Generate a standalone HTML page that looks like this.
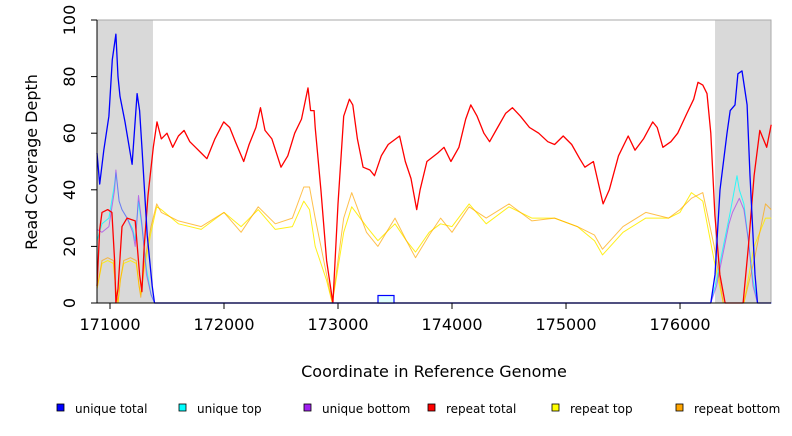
<!DOCTYPE html>
<html><head><meta charset="utf-8">
<style>
body{margin:0;background:#fff;width:792px;height:432px;overflow:hidden;font-family:"DejaVu Sans","Liberation Sans",sans-serif;}
svg text{font-family:"DejaVu Sans","Liberation Sans",sans-serif;}
</style></head>
<body>
<svg id="chart" width="792" height="432" xmlns="http://www.w3.org/2000/svg"></svg>
<script>
const xTicks=[171000,172000,173000,174000,175000,176000];
const yTicks=[0,20,40,60,80,100];
const regions=[[170886,171377],[176307,176800]];
const seriesNames=["unique total","unique top","unique bottom","repeat total","repeat top","repeat bottom"];
const seriesColors=["#0000ff","#00ffff","#a020f0","#ff0000","#ffff00","#ffa500"];
const redX=[170886,170910,170930,170980,171017,171040,171052,171070,171105,171150,171221,171260,171280,171300,171333,171380,171412,171450,171500,171550,171600,171650,171700,171750,171800,171850,171920,171997,172050,172100,172173,172220,172280,172320,172360,172420,172500,172560,172620,172680,172737,172760,172790,172800,172850,172900,172955,173000,173050,173100,173130,173170,173220,173280,173320,173380,173440,173540,173590,173640,173690,173720,173780,173875,173930,173990,174060,174120,174165,174220,174280,174330,174400,174470,174530,174600,174680,174760,174840,174900,174975,175050,175120,175166,175240,175325,175380,175460,175545,175605,175680,175760,175800,175850,175920,175980,176060,176120,176158,176200,176237,176270,176306,176350,176395,176553,176600,176650,176700,176760,176800];
const redY=[6,26,32,33,32,15,0,5,27,30,29,10,4,20,38,55,64,58,60,55,59,61,57,55,53,51,58,64,62,57,50,56,62,69,61,58,48,52,60,65,76,68,68,62,40,15,0,35,66,72,70,58,48,47,45,52,56,59,50,44,33,40,50,53,55,50,55,65,70,66,60,57,62,67,69,66,62,60,57,56,59,56,51,48,50,35,40,52,59,54,58,64,62,55,57,60,67,72,78,77,74,60,31,10,0,0,20,45,61,55,63];
const blueX=[170886,170910,170946,170990,171020,171052,171070,171088,171132,171194,171238,171260,171282,171326,171370,171390,176270,176307,176351,176412,176440,176482,176508,176544,176588,176614,176658,176680,176800];
const blueY=[53,42,54,66,86,95,80,73,64,49,74,68,54,24,6,0,0,10,40,60,68,70,81,82,70,45,10,0,0];
const cyanX=[170886,170930,170990,171040,171052,171080,171105,171150,171200,171221,171250,171280,171320,171360,171390,176270,176320,176380,176440,176500,176520,176560,176600,176640,176680,176800];
const cyanY=[22,28,30,42,46,36,33,30,26,22,36,27,12,3,0,0,8,20,32,45,40,35,22,8,0,0];
const purpleX=[170886,170930,170990,171040,171052,171080,171105,171150,171200,171221,171250,171280,171320,171360,171390,176270,176320,176380,176430,176460,176520,176560,176600,176640,176680,176800];
const purpleY=[26,25,27,40,47,36,33,30,25,20,38,28,10,3,0,0,6,18,28,32,37,33,22,6,0,0];
const repX=[170886,170930,170980,171030,171050,171070,171090,171120,171180,171230,171255,171270,171300,171360,171410,171450,171600,171800,172000,172150,172300,172450,172600,172700,172750,172800,172900,172950,173050,173120,173250,173350,173500,173600,173680,173800,173900,174000,174150,174300,174500,174700,174900,175100,175250,175320,175500,175700,175900,176000,176100,176200,176300,176380,176560,176650,176750,176800];
const yellowY=[5,14,15,14,5,0,8,14,15,14,6,3,12,25,34,33,28,26,32,27,33,26,27,36,33,20,8,0,25,34,27,22,28,22,18,25,28,27,35,28,34,30,30,27,22,17,25,30,30,32,39,36,15,0,0,20,30,30];
const orangeY=[5,15,16,15,5,0,8,15,16,15,6,2,14,27,35,32,29,27,32,25,34,28,30,41,41,30,10,0,30,39,25,20,30,22,16,24,30,25,34,30,35,29,30,27,24,19,27,32,30,33,37,39,20,0,0,15,35,33];

const svg=document.getElementById('chart');
const NS="http://www.w3.org/2000/svg";
const X0=97,X1=771,Y0=303,Y1=20;
const xs=c=>X0+(c-170886)*(X1-X0)/(176798-170886);
const ys=v=>Y0-v*(Y0-Y1)/100;
function mk(tag,attrs,parent){const e=document.createElementNS(NS,tag);for(const k in attrs)e.setAttribute(k,attrs[k]);(parent||svg).appendChild(e);return e;}

regions.forEach(r=>{
  const rc=mk('rect',{x:xs(r[0]),y:Y1,width:Math.min(xs(r[1]),X1)-xs(r[0]),height:Y0-Y1,fill:'#d9d9d9'});
  
  
});
const frame=mk('rect',{x:X0,y:Y1,width:X1-X0,height:Y0-Y1,fill:'none',stroke:'#aaa','stroke-width':1});



function linePath(xa,ya){let d='';for(let i=0;i<xa.length;i++){d+=(i?'L':'M')+xs(xa[i]).toFixed(1)+' '+ys(ya[i]).toFixed(1);}return d;}
function line(xa,ya,color,w,name,op){
  const p=mk('path',{d:linePath(xa,ya),fill:'none',stroke:color,'stroke-width':w,'stroke-opacity':op,'stroke-linejoin':'round'});
  
  
}
line(repX,yellowY,'#ffee00',1,'repeat-top-line',0.9);
line(repX,orangeY,'#ffa500',1,'repeat-bottom-line',0.7);
line(cyanX,cyanY,'#00ffff',1,'unique-top-line',0.8);
line(purpleX,purpleY,'#a020f0',1,'unique-bottom-line',0.6);
line(redX,redY,'#ff0000',1.3,'repeat-total-line',1);
line(blueX,blueY,'#0000ff',1.3,'unique-total-line',1);
const base=mk('line',{x1:xs(171390),x2:xs(176270),y1:Y0,y2:Y0,stroke:'#4040ff','stroke-width':1.3});


const blip=mk('rect',{x:378,y:295.5,width:16,height:7.5,fill:'#e0ffff',stroke:'#0000ff','stroke-width':1.2});



const ya=mk('line',{x1:X0,x2:X0,y1:Y0,y2:Y1,stroke:'#000'});


yTicks.forEach(v=>{
  const t=mk('line',{x1:X0-6,x2:X0,y1:ys(v),y2:ys(v),stroke:'#000'});
  
  
  const l=mk('text',{x:0,y:0,transform:`translate(75,${ys(v)}) rotate(-90)`,'text-anchor':'middle','font-size':16,fill:'#000'});
  l.textContent=v;
  
  
});
const xa=mk('line',{x1:X0,x2:X1,y1:Y0,y2:Y0,stroke:'#000'});


xTicks.forEach(v=>{
  const t=mk('line',{x1:xs(v),x2:xs(v),y1:Y0,y2:Y0+6,stroke:'#000'});
  
  
  const l=mk('text',{x:xs(v),y:330,'text-anchor':'middle','font-size':16,fill:'#000'});
  l.textContent=v;
  
  
});
const xt=mk('text',{x:434,y:377,'text-anchor':'middle','font-size':16,fill:'#000'});
xt.textContent='Coordinate in Reference Genome';


const yt=mk('text',{x:0,y:0,transform:'translate(37,162) rotate(-90)','text-anchor':'middle','font-size':16,fill:'#000'});
yt.textContent='Read Coverage Depth';



const legX=[57,179,304,428,552,676];
seriesNames.forEach((n,i)=>{
  const g=mk('g',{});
  
  
  mk('rect',{x:legX[i],y:404,width:7,height:7,fill:seriesColors[i],stroke:'#000','stroke-width':0.8},g);
  const t=mk('text',{x:legX[i]+18,y:413,'font-size':12,fill:'#000'},g);
  t.textContent=n;
});
</script>
</body></html>
